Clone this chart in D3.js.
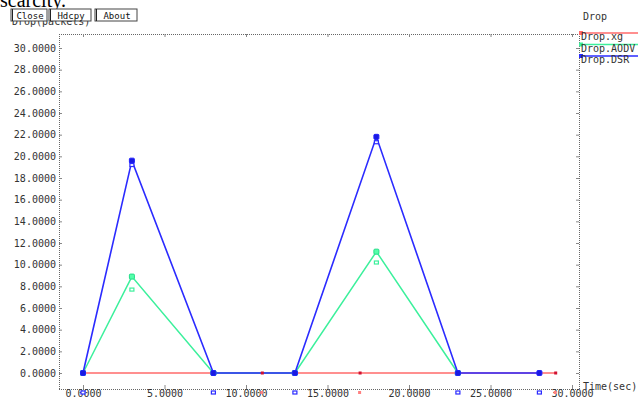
<!DOCTYPE html>
<html><head><meta charset="utf-8">
<script src="https://cdn.jsdelivr.net/npm/d3@7"></script>
<style>body{margin:0;background:#fff}svg{display:block}</style>
</head><body>
<svg id="c" width="638" height="399"></svg>
<script>
// ---- data ----
const xgX   = [0, 11, 17, 29];
const xgY   = [0, 0, 0, 0];
const aodvX = [0, 3, 8, 13, 18, 23];
const aodvY = [0, 8.9, 0, 0, 11.2, 0];
const dsrX  = [0, 3, 8, 13, 18, 23, 28];
const dsrY  = [0, 19.6, 0, 0, 21.8, 0, 0];
// secondary (offset) markers
const aodvX2 = [3, 18];
const aodvY2 = [7.7, 10.2];
const dsrX2  = [3, 18, 0, 8, 13, 23, 28];
const dsrY2  = [19.2, 21.3, -1.8, -1.8, -1.8, -1.8, -1.8];
const xgX2   = [11, 17, 29];
const xgY2   = [-1.8, -1.8, -1.8];
const yTicks = [0,2,4,6,8,10,12,14,16,18,20,22,24,26,28,30];
const xTicks = [0,5,10,15,20,25,30];
const seriesNames = ["Drop.xg", "Drop.AODV", "Drop.DSR"];
const colors = ["#ff6a6a", "#3cf09c", "#2b2bff"];

const svg = d3.select("#c");
const mono = "'DejaVu Sans Mono', 'Liberation Mono', monospace";

// document text cut off at top
svg.append("text").attr("x", 0).attr("y", 7).attr("font-family", "'Liberation Serif', serif")
  .attr("font-size", 20).attr("fill", "#000").text("scarcity.");

// y axis title (partly hidden by buttons)
svg.append("text").attr("x", 12).attr("y", 25).attr("font-family", mono).attr("font-size", 10)
  .attr("fill", "#333").text("Drop(packets)");

// buttons
const btns = [{t:"Close",x:11,w:36},{t:"Hdcpy",x:49,w:42},{t:"About",x:95,w:42}];
btns.forEach(b => {
  svg.append("rect").attr("x", b.x).attr("y", 9).attr("width", b.w).attr("height", 12)
    .attr("fill", "#fff").attr("stroke", "#444").attr("stroke-width", 1);
  svg.append("line").attr("x1", b.x + 1.5).attr("x2", b.x + 1.5).attr("y1", 9).attr("y2", 21)
    .attr("stroke", "#222");
  svg.append("text").attr("x", b.x + b.w/2 + 1).attr("y", 18.5).attr("text-anchor", "middle")
    .attr("font-family", mono).attr("font-size", 9).attr("fill", "#111").text(b.t);
});

// scales
const L = 59, R = 579, T = 34, B = 389;
const x = d3.scaleLinear().domain([0, 30]).range([83, 572]);
const y = d3.scaleLinear().domain([0, 30]).range([373, 48]);

// frame (dotted)
const frame = svg.append("g").attr("stroke", "#666").attr("stroke-dasharray", "1,1").attr("fill", "none");
frame.append("line").attr("x1", L).attr("x2", R).attr("y1", T + .5).attr("y2", T + .5);
frame.append("line").attr("x1", L).attr("x2", R).attr("y1", B + .5).attr("y2", B + .5);
frame.append("line").attr("x1", L + .5).attr("x2", L + .5).attr("y1", T).attr("y2", B);
frame.append("line").attr("x1", R + .5).attr("x2", R + .5).attr("y1", T).attr("y2", B);

// axes
function styleAxis(g) {
  g.select(".domain").remove();
  g.selectAll("line").attr("stroke", "#888");
  g.selectAll("text").attr("font-family", mono).attr("font-size", 10).attr("fill", "#333");
}
svg.append("g").attr("transform", `translate(${L},0)`)
  .call(d3.axisLeft(y).tickValues(yTicks).tickFormat(d3.format(".4f")).tickSize(-3).tickPadding(3))
  .call(styleAxis);
svg.append("g").attr("transform", `translate(0,${B})`)
  .call(d3.axisBottom(x).tickValues(xTicks).tickFormat(d3.format(".4f")).tickSize(-4).tickPadding(1))
  .call(styleAxis);
svg.append("g").attr("transform", `translate(0,${T})`)
  .call(d3.axisTop(x).tickValues(xTicks).tickFormat("").tickSize(-3))
  .call(styleAxis);
svg.append("g").attr("transform", `translate(${R},0)`)
  .call(d3.axisRight(y).tickValues(yTicks).tickFormat("").tickSize(-3))
  .call(styleAxis);

// series
const series = [
  {X: xgX, Y: xgY, X2: xgX2, Y2: xgY2},
  {X: aodvX, Y: aodvY, X2: aodvX2, Y2: aodvY2},
  {X: dsrX, Y: dsrY, X2: dsrX2, Y2: dsrY2}
];
const line = d3.line().x(d => x(d[0])).y(d => y(d[1]));
series.forEach((s, i) => {
  const pts = s.X.map((v, k) => [v, s.Y[k]]);
  svg.append("path").datum(pts).attr("d", line).attr("fill", "none")
    .attr("stroke", colors[i]).attr("stroke-width", i === 2 ? 1.6 : 1.5);
});
series.forEach((s, i) => {
  const pts = s.X.map((v, k) => [v, s.Y[k]]);
  const sz = i === 0 ? 3 : 5;
  svg.append("g").selectAll("rect").data(pts).join("rect")
    .attr("x", d => x(d[0]) - sz/2).attr("y", d => y(d[1]) - sz/2)
    .attr("width", sz).attr("height", sz).attr("rx", i === 0 ? 0 : 1)
    .attr("fill", i === 0 ? "#d01030" : (i === 1 ? "#55ffaa" : "#1a1ae0"))
    .attr("stroke", i === 0 ? "none" : (i === 1 ? "#22dd88" : "#2020ff"));
  const pts2 = s.X2.map((v, k) => [v, s.Y2[k]]);
  svg.append("g").selectAll("rect").data(pts2).join("rect")
    .attr("x", d => x(d[0]) - 2).attr("y", d => y(d[1]) - 1.5)
    .attr("width", i === 0 ? 3 : 4).attr("height", 3)
    .attr("fill", i === 0 ? "#ff8080" : "#fff").attr("stroke", i === 0 ? "none" : colors[i]).attr("stroke-width", 1.2);
});

// legend
svg.append("text").attr("x", 583).attr("y", 20).attr("font-family", mono).attr("font-size", 10)
  .attr("fill", "#333").text("Drop");
seriesNames.forEach((n, i) => {
  const ly = 33 + i * 11.5;
  svg.append("line").attr("x1", R).attr("x2", 638).attr("y1", ly).attr("y2", ly)
    .attr("stroke", colors[i]).attr("stroke-width", 1.3);
  svg.append("rect").attr("x", R).attr("y", ly - 2).attr("width", 4).attr("height", 4)
    .attr("fill", colors[i]);
  svg.append("text").attr("x", 581).attr("y", ly + 7).attr("font-family", mono).attr("font-size", 10)
    .attr("fill", "#333").text(n);
});

// x axis title
svg.append("text").attr("x", 583).attr("y", 390).attr("font-family", mono).attr("font-size", 10)
  .attr("fill", "#333").text("Time(sec)");
</script>
</body></html>
